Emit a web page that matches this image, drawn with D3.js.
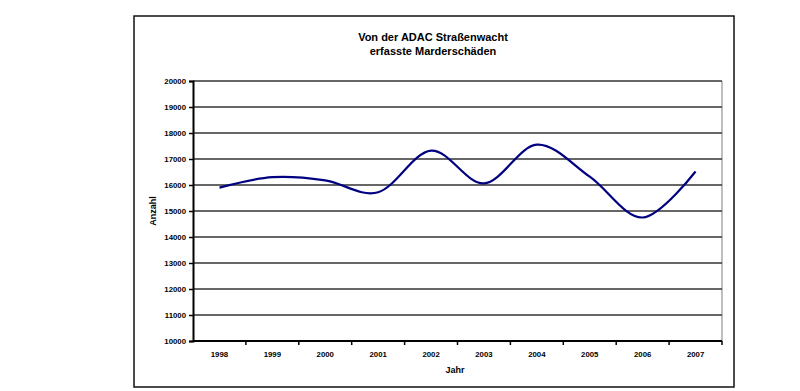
<!DOCTYPE html>
<html><head><meta charset="utf-8">
<script src="https://cdn.jsdelivr.net/npm/d3@7"></script>
<style>body{margin:0;background:#fff}svg{display:block}text{font-family:"Liberation Sans",Arial,sans-serif;font-weight:bold;fill:#000}</style>
</head><body><div id="chart"></div>
<script>
const years = ["1998","1999","2000","2001","2002","2003","2004","2005","2006","2007"];
const counts = [15900, 16300, 16180, 15720, 17320, 16060, 17550, 16320, 14750, 16520];
const yTicks = [10000,11000,12000,13000,14000,15000,16000,17000,18000,19000,20000];
const titleLines = ["Von der ADAC Straßenwacht","erfasste Marderschäden"];

const W=800,H=391;
const svg=d3.select("#chart").append("svg").attr("width",W).attr("height",H);
svg.append("rect").attr("width",W).attr("height",H).attr("fill","#fff");
// outer frame
svg.append("rect").attr("x",134).attr("y",16).attr("width",600).attr("height",371)
  .attr("fill","#fff").attr("stroke","#111").attr("stroke-width",1.5);

const L=193,R=722,T=81,B=341;
const x=d3.scaleBand().domain(years).range([L,R]);
const y=d3.scaleLinear().domain([10000,20000]).range([B,T]);

// plot area right border
svg.append("line").attr("x1",R).attr("x2",R).attr("y1",T).attr("y2",B).attr("stroke","#aaa").attr("stroke-width",1.5);
// gridlines
svg.append("g").selectAll("line").data(yTicks.slice(1)).join("line")
  .attr("x1",L).attr("x2",R).attr("y1",d=>y(d)).attr("y2",d=>y(d))
  .attr("stroke","#333").attr("stroke-width",1.3);

// y axis
const ya=svg.append("g").attr("transform",`translate(${L},0)`)
  .call(d3.axisLeft(y).tickValues(yTicks).tickSize(4).tickPadding(3).tickFormat(d3.format("d")));
ya.select(".domain").attr("stroke","#000").attr("stroke-width",2);
ya.selectAll(".tick line").attr("stroke","#000").attr("stroke-width",1.5);
ya.selectAll("text").style("font-size","7.8px").attr("fill","#000");

// x axis
const xa=svg.append("g").attr("transform",`translate(0,${B})`)
  .call(d3.axisBottom(x).tickSize(0).tickPadding(10));
xa.select(".domain").attr("stroke","#000").attr("stroke-width",2).attr("d",`M${L},0H${R}`);
xa.selectAll("text").style("font-size","7.8px").attr("fill","#000");
svg.append("g").selectAll("line").data(years.slice(1).concat(["end"])).join("line")
  .attr("x1",(d,i)=>L+x.step()*(i+1)).attr("x2",(d,i)=>L+x.step()*(i+1))
  .attr("y1",B).attr("y2",B+4).attr("stroke","#000").attr("stroke-width",1.5);

// line
const line=d3.line().x((d,i)=>x(years[i])+x.bandwidth()/2).y(d=>y(d)).curve(d3.curveCardinal.tension(0));
svg.append("path").datum(counts).attr("d",line).attr("fill","none").attr("stroke","#000080").attr("stroke-width",2.2);

// titles
svg.append("g").selectAll("text").data(titleLines).join("text")
  .attr("x",433).attr("y",(d,i)=>41+i*14).attr("text-anchor","middle").style("font-size","11px").text(d=>d);
svg.append("text").attr("x",455).attr("y",373).attr("text-anchor","middle").style("font-size","9px").text("Jahr");
svg.append("text").attr("transform","translate(156,211) rotate(-90)").attr("text-anchor","middle").style("font-size","9px").text("Anzahl");
</script></body></html>
